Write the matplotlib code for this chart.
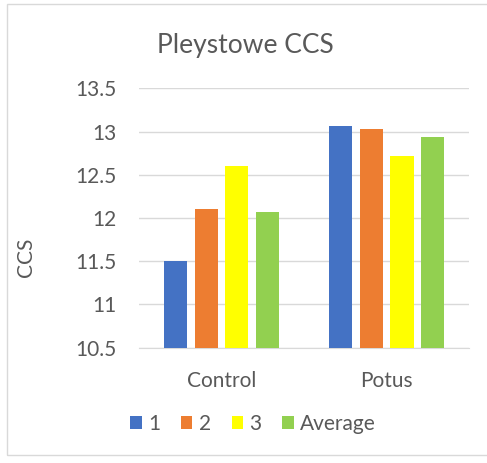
import numpy as np
import matplotlib.pyplot as plt
from matplotlib.patches import Rectangle

categories = ["Control", "Potus"]
series_names = ["1", "2", "3", "Average"]
vals_1 = [11.5, 13.07]
vals_2 = [12.1, 13.03]
vals_3 = [12.6, 12.72]
vals_avg = [12.07, 12.94]
y_ticks = [10.5, 11, 11.5, 12, 12.5, 13, 13.5]
y_tick_labels = ["10.5", "11", "11.5", "12", "12.5", "13", "13.5"]

colors = ["#4472C4", "#ED7D31", "#FFFF00", "#92D050"]
text_col = "#595959"
grid_col = "#d9d9d9"

plt.rcParams['font.family'] = ['Lato', 'DejaVu Sans']

fig = plt.figure(figsize=(4.87, 4.63), dpi=100)
ax = fig.add_axes([0.2854, 0.249, 0.678, 0.560])

# chart area border, runs off the right edge like the screenshot
fig.patches.append(Rectangle((6.7 / 487, 1 - 455 / 463), 1.0, (455 - 4) / 463,
                             transform=fig.transFigure, fill=False,
                             edgecolor=grid_col, linewidth=1.0))

x = np.arange(len(categories))
step = 0.186
width = 0.14
all_vals = [vals_1, vals_2, vals_3, vals_avg]
for i, (vals, name) in enumerate(zip(all_vals, series_names)):
    ax.bar(x + (i - 1.5) * step, vals, width, color=colors[i], label=name,
           zorder=3, bottom=0)

ax.set_xlim(-0.5, 1.5)
ax.set_ylim(10.5, 13.5)
ax.set_yticks(y_ticks)
ax.set_yticklabels(y_tick_labels)
ax.set_xticks(x)
ax.set_xticklabels(categories)
ax.grid(axis='y', color=grid_col, linewidth=1.0, zorder=0)
for s in ["top", "right", "left"]:
    ax.spines[s].set_visible(False)
ax.spines["bottom"].set_color(grid_col)
ax.tick_params(axis='both', length=0, colors=text_col, labelsize=15)
ax.tick_params(axis='y', pad=16)
ax.tick_params(axis='x', pad=16.5)

ax.set_ylabel("CCS", color=text_col, fontsize=15)
ax.yaxis.set_label_coords(-0.312, 0.35)

fig.text(245 / 487, 1 - 45 / 463, "Pleystowe CCS", ha='center', va='center',
         color=text_col, fontsize=19)

leg = fig.legend(loc='center', bbox_to_anchor=(253 / 487, 1 - 424 / 463), ncol=4,
                 frameon=False, fontsize=15, handlelength=0.55, handleheight=0.55,
                 handletextpad=0.3, columnspacing=1.0, labelcolor=text_col)

fig.savefig("out.png", dpi=100)
